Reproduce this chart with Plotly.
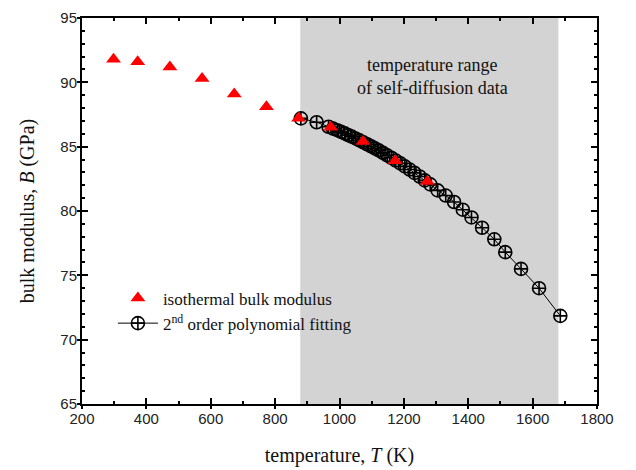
import plotly.graph_objects as go

# isothermal bulk modulus (triangles)
T_iso = [298, 373, 473, 573, 673, 773, 873, 973, 1073, 1173, 1273]
B_iso = [91.8, 91.6, 91.2, 90.3, 89.1, 88.1, 87.2, 86.5, 85.4, 83.9, 82.3]

# 2nd order polynomial fitting (circles with cross)
T_fit = [880, 929, 966, 980, 993, 1005, 1016, 1027, 1038, 1050, 1062, 1074, 1086,
         1098, 1110, 1122, 1135, 1148, 1161, 1175, 1189, 1203, 1218, 1233, 1249,
         1265, 1282, 1305, 1330, 1356, 1383, 1410, 1443, 1481, 1515, 1564, 1620, 1686]
B_fit = [87.2, 86.9, 86.55, 86.4, 86.28, 86.15, 86.03, 85.9, 85.78, 85.64, 85.49,
         85.34, 85.19, 85.03, 84.87, 84.71, 84.52, 84.33, 84.14, 83.92, 83.7, 83.47,
         83.22, 82.96, 82.68, 82.38, 82.07, 81.6, 81.2, 80.7, 80.1, 79.5, 78.7, 77.8,
         76.8, 75.5, 74.0, 71.85]

shade_range = [878, 1680]
x_range = [200, 1800]
y_range = [65, 95]
x_ticks = [200, 400, 600, 800, 1000, 1200, 1400, 1600, 1800]
y_ticks = [65, 70, 75, 80, 85, 90, 95]

serif = "Liberation Serif, Times New Roman, DejaVu Serif, serif"
sans = "Liberation Sans, Arial, sans-serif"

fig = go.Figure()

fig.add_trace(go.Scatter(
    x=T_fit, y=B_fit, mode="lines+markers",
    name="2<sup>nd</sup> order polynomial fitting",
    line=dict(color="black", width=1),
    marker=dict(symbol="circle-cross-open", size=13, color="black",
                line=dict(width=1.6, color="black")),
))
fig.add_trace(go.Scatter(
    x=T_iso, y=B_iso, mode="markers",
    name="isothermal bulk modulus",
    marker=dict(symbol="triangle-up", size=13, color="#ff0000",
                line=dict(width=0)),
))
# invisible trace to activate overlay axes (outside major ticks)
fig.add_trace(go.Scatter(x=[x_range[0]], y=[y_range[0]], xaxis="x2", yaxis="y2",
                         mode="markers", marker=dict(opacity=0), showlegend=False,
                         hoverinfo="skip"))

fig.add_shape(type="rect", xref="x", yref="y",
              x0=shade_range[0], x1=shade_range[1], y0=y_range[0], y1=y_range[1],
              fillcolor="#d3d3d3", line=dict(width=0), layer="below")

fig.add_annotation(x=1290, y=90.45, xref="x", yref="y",
                   text="temperature range<br>of self-diffusion data",
                   showarrow=False, font=dict(family=serif, size=18, color="#111"))

axis_common = dict(showgrid=False, zeroline=False, showline=True, linecolor="black",
                   linewidth=2, mirror="ticks", ticks="inside", ticklen=6,
                   tickwidth=1.5, tickcolor="black", automargin=False,
                   tickfont=dict(family=sans, size=15, color="#222"))

fig.update_layout(
    width=636, height=470,
    margin=dict(l=82, r=39, t=18, b=66),
    paper_bgcolor="white", plot_bgcolor="white",
    xaxis=dict(range=x_range, tickvals=x_ticks, **axis_common,
               minor=dict(ticks="inside", ticklen=3, tickwidth=1.5, dtick=100,
                          tick0=200, tickcolor="black"),
               title=dict(text="temperature, <i>T</i> (K)",
                          font=dict(family=serif, size=20, color="#111"), standoff=22)),
    yaxis=dict(range=y_range, tickvals=y_ticks, **axis_common,
               minor=dict(ticks="inside", ticklen=3, tickwidth=1.5, dtick=1,
                          tick0=65, tickcolor="black"),
               title=dict(text="bulk modulus, <i>B</i> (GPa)",
                          font=dict(family=serif, size=20, color="#111"), standoff=20)),
    xaxis2=dict(range=x_range, overlaying="x", anchor="y2", side="bottom",
                tickvals=x_ticks, ticks="outside", ticklen=4, tickwidth=1.5,
                tickcolor="black", showticklabels=False, showline=False,
                showgrid=False, zeroline=False),
    yaxis2=dict(range=y_range, overlaying="y", anchor="x2", side="left",
                tickvals=y_ticks, ticks="outside", ticklen=4, tickwidth=1.5,
                tickcolor="black", showticklabels=False, showline=False,
                showgrid=False, zeroline=False),
    legend=dict(x=0.06, y=0.32, xanchor="left", yanchor="top",
                bgcolor="rgba(0,0,0,0)", traceorder="reversed",
                font=dict(family=serif, size=17, color="#111"),
                itemwidth=40, tracegroupgap=0),
    showlegend=True,
)

fig.write_html("out.html")
